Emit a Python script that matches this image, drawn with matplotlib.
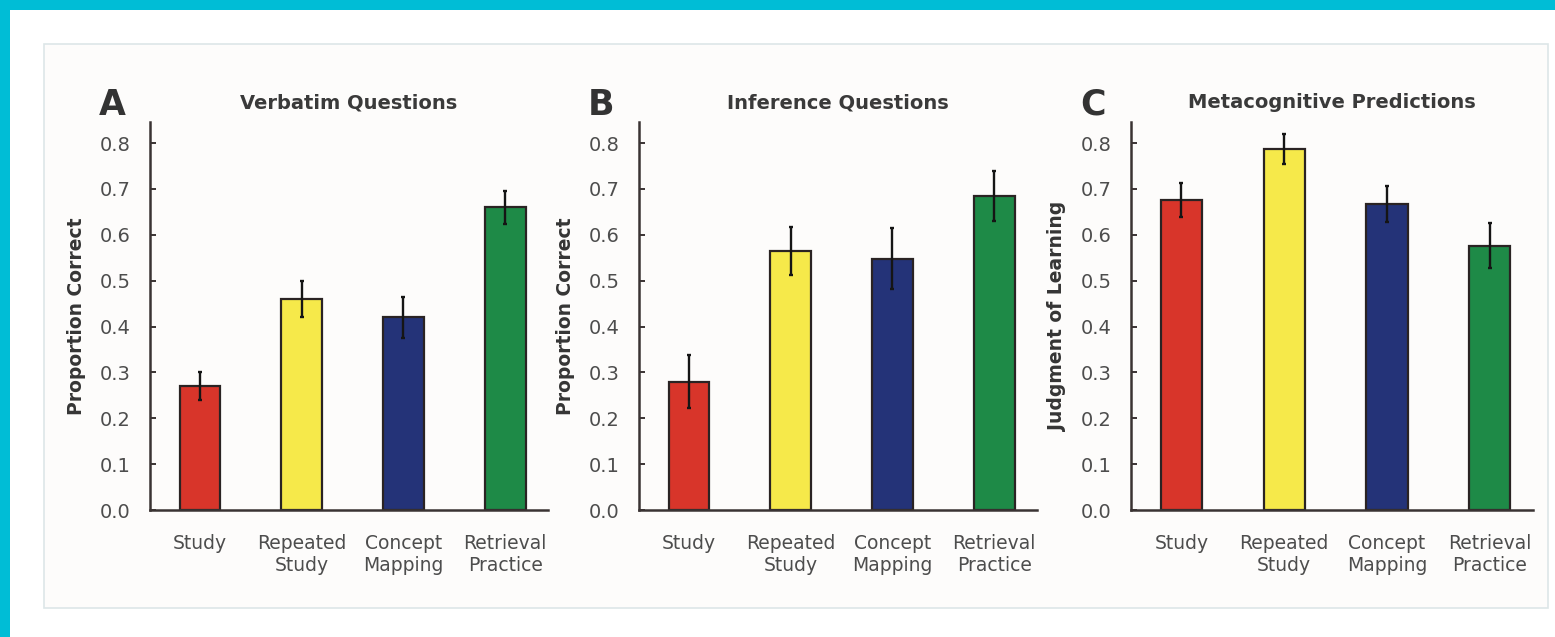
import numpy as np
import matplotlib.pyplot as plt
from matplotlib.patches import Rectangle

conditions = ["Study", "Repeated\nStudy", "Concept\nMapping", "Retrieval\nPractice"]
bar_colors = ["#d8352a", "#f6e94a", "#243378", "#1e8a47"]

verbatim = [0.27, 0.46, 0.42, 0.66]
verbatim_err = [0.03, 0.04, 0.045, 0.036]
inference = [0.28, 0.565, 0.548, 0.685]
inference_err = [0.058, 0.053, 0.067, 0.054]
judgment = [0.675, 0.787, 0.667, 0.576]
judgment_err = [0.037, 0.033, 0.04, 0.049]

panels = [
    ("A", "Verbatim Questions", "Proportion Correct", verbatim, verbatim_err),
    ("B", "Inference Questions", "Proportion Correct", inference, inference_err),
    ("C", "Metacognitive Predictions", "Judgment of Learning", judgment, judgment_err),
]

W, H = 1555, 637
fig = plt.figure(figsize=(W / 100, H / 100), dpi=100)
fig.patch.set_facecolor("white")

# cyan frame on top and left, then the light box holding the three panels
fig.add_artist(Rectangle((0, 1 - 10 / H), 1, 10 / H, transform=fig.transFigure,
                         facecolor="#00bdd6", edgecolor="none", zorder=0))
fig.add_artist(Rectangle((0, 0), 10 / W, 1, transform=fig.transFigure,
                         facecolor="#00bdd6", edgecolor="none", zorder=0))
fig.add_artist(Rectangle((44 / W, 1 - 608 / H), (1548 - 44) / W, (608 - 44) / H,
                         transform=fig.transFigure, facecolor="#fdfcfb",
                         edgecolor="#dde6e8", linewidth=1.2, zorder=0))

axes_left = [150, 639, 1131]
axes_width = [398, 398, 402]
ax_bottom = (H - 510) / H
ax_height = 388 / H
ink = "#3a3333"

x = np.arange(len(conditions))
for (letter, title, ylabel, vals, errs), left, width in zip(panels, axes_left, axes_width):
    ax = fig.add_axes([left / W, ax_bottom, width / W, ax_height])
    ax.set_facecolor("none")
    ax.bar(x, vals, width=0.4, color=bar_colors, edgecolor="#2a2323", linewidth=1.6,
           yerr=errs, error_kw=dict(ecolor="#151515", elinewidth=1.7, capsize=1.5, capthick=1.7),
           zorder=2)
    ax.set_xlim(-0.49, 3.42)
    ax.set_ylim(0, 0.846)
    ax.set_yticks(np.arange(0, 0.81, 0.1))
    ax.set_yticklabels([f"{v:.1f}" for v in np.arange(0, 0.81, 0.1)])
    ax.set_xticks(x)
    ax.set_xticklabels(conditions, linespacing=1.2)
    for s in ["top", "right"]:
        ax.spines[s].set_visible(False)
    for s in ["left", "bottom"]:
        ax.spines[s].set_color(ink)
        ax.spines[s].set_linewidth(1.8)
    ax.tick_params(axis="y", direction="in", length=4, width=1.4, color=ink,
                   labelsize=14, labelcolor="#4d4d4d", pad=14)
    ax.tick_params(axis="x", length=0, labelsize=13.5, labelcolor="#4d4d4d", pad=17)
    ax.set_ylabel(ylabel, fontsize=13.5, fontweight="bold", color="#353535", labelpad=10)
    ax.set_title(title, fontsize=14, fontweight="bold", color="#3a3a3a", pad=10)
    ax.text(-0.095, 1.045, letter, transform=ax.transAxes, fontsize=25,
            fontweight="bold", color="#333333", ha="center", va="center")

fig.savefig("out.png", dpi=100)
